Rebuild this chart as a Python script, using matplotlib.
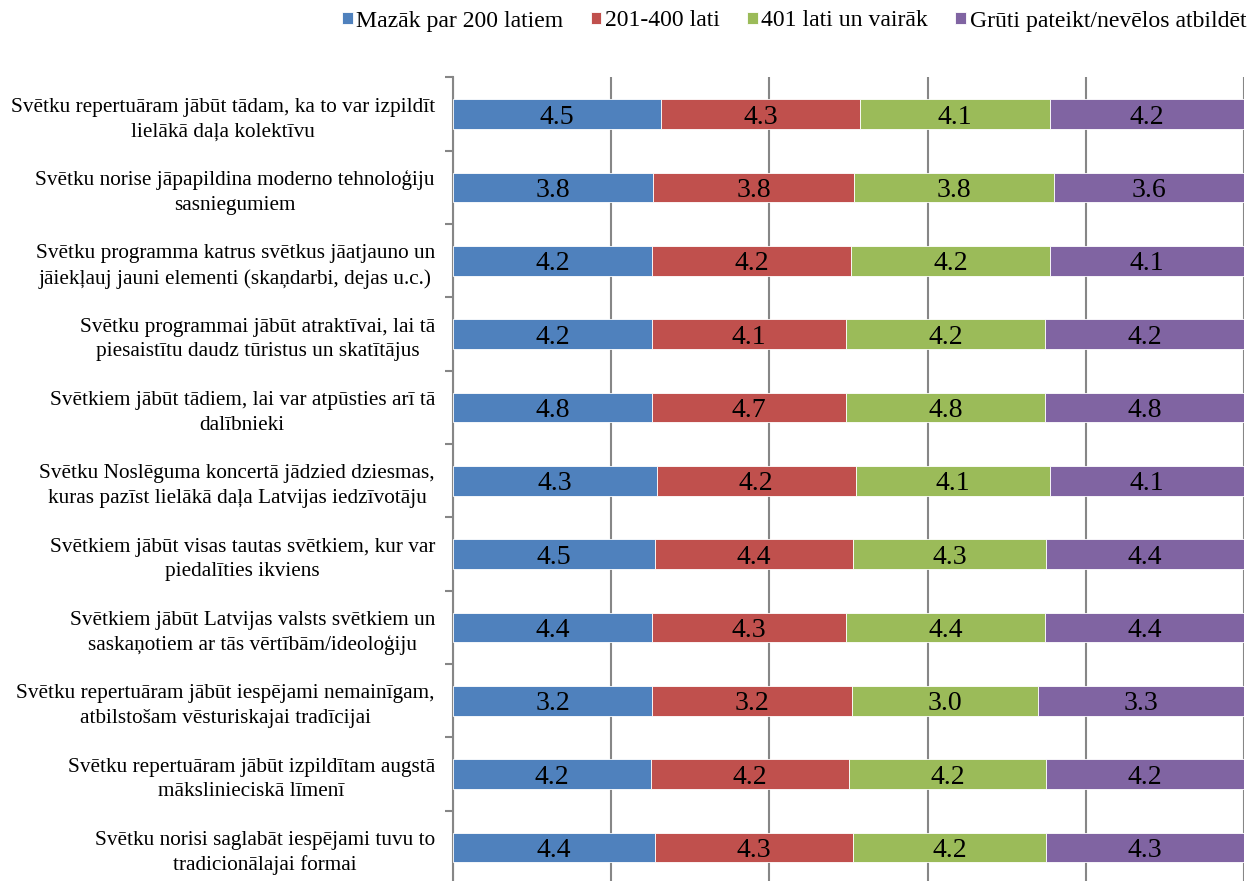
import numpy as np
import matplotlib
matplotlib.use("Agg")
import matplotlib.pyplot as plt
from matplotlib.ticker import FixedLocator

matplotlib.rcParams['font.family'] = ['Liberation Serif', 'DejaVu Serif']

# statements, top to bottom as they appear
categories = [
    "Svētku repertuāram jābūt tādam, ka to var izpildīt\nlielākā daļa kolektīvu",
    "Svētku norise jāpapildina moderno tehnoloģiju\nsasniegumiem",
    "Svētku programma katrus svētkus jāatjauno un\njāiekļauj jauni elementi (skaņdarbi, dejas u.c.)",
    "Svētku programmai jābūt atraktīvai, lai tā\npiesaistītu daudz tūristus un skatītājus",
    "Svētkiem jābūt tādiem, lai var atpūsties arī tā\ndalībnieki",
    "Svētku Noslēguma koncertā jādzied dziesmas,\nkuras pazīst lielākā daļa Latvijas iedzīvotāju",
    "Svētkiem jābūt visas tautas svētkiem, kur var\npiedalīties ikviens",
    "Svētkiem jābūt Latvijas valsts svētkiem un\nsaskaņotiem ar tās vērtībām/ideoloģiju",
    "Svētku repertuāram jābūt iespējami nemainīgam,\natbilstošam vēsturiskajai tradīcijai",
    "Svētku repertuāram jābūt izpildītam augstā\nmākslinieciskā līmenī",
    "Svētku norisi saglabāt iespējami tuvu to\ntradicionālajai formai",
]

series_names = ["Mazāk par 200 latiem", "201-400 lati", "401 lati un vairāk",
                "Grūti pateikt/nevēlos atbildēt"]

under_200 = [4.5, 3.8, 4.2, 4.2, 4.8, 4.3, 4.5, 4.4, 3.2, 4.2, 4.4]
lati_201_400 = [4.3, 3.8, 4.2, 4.1, 4.7, 4.2, 4.4, 4.3, 3.2, 4.2, 4.3]
over_401 = [4.1, 3.8, 4.2, 4.2, 4.8, 4.1, 4.3, 4.4, 3.0, 4.2, 4.2]
hard_to_say = [4.2, 3.6, 4.1, 4.2, 4.8, 4.1, 4.4, 4.4, 3.3, 4.2, 4.3]

colors = ["#4F81BD", "#C0504D", "#9BBB59", "#8064A2"]

data = np.array([under_200, lati_201_400, over_401, hard_to_say])
shares = data / data.sum(axis=0) * 100  # 100% stacked

fig = plt.figure(figsize=(12.56, 8.81), dpi=100)
ax = fig.add_axes([453 / 1256, -0.0036, 791 / 1256, 0.9157])

n = len(categories)
y = np.arange(n)
left = np.zeros(n)
for i in range(4):
    bars = ax.barh(y, shares[i], left=left, height=0.405, color=colors[i],
                   label=series_names[i], zorder=3, edgecolor="white", linewidth=0.6)
    for j, b in enumerate(bars):
        ax.text(left[j] + shares[i][j] / 2, y[j], f"{data[i][j]:.1f}",
                ha="center", va="center_baseline", fontsize=20, color="black", zorder=4)
    left += shares[i]

ax.set_xlim(0, 100)
ax.set_ylim(n - 0.5, -0.5)
ax.set_xticks([0, 20, 40, 60, 80, 100])
ax.tick_params(axis="x", length=0, labelbottom=False)
ax.xaxis.grid(True, color="#868686", linewidth=1.5, zorder=0)

ax.set_yticks(y)
ax.set_yticklabels(categories, fontsize=15.3, ha="right", multialignment="center")
for t in ax.get_yticklabels():
    t.set_linespacing(1.4)
ax.tick_params(axis="y", which="major", length=0, pad=13)
ax.yaxis.set_minor_locator(FixedLocator(np.arange(-0.5, n, 1)))
ax.tick_params(axis="y", which="minor", length=6, width=1.5, color="#868686")

for s in ["top", "right", "bottom"]:
    ax.spines[s].set_visible(False)
ax.spines["left"].set_color("#868686")
ax.spines["left"].set_linewidth(1.5)

handles, labels = ax.get_legend_handles_labels()
fig.legend(handles, labels, loc="center", bbox_to_anchor=(794 / 1256, 1 - 21 / 881),
           ncol=4, frameon=False, fontsize=17.1, handlelength=0.45, handleheight=0.45,
           handletextpad=0.15, columnspacing=1.15, borderaxespad=0)

fig.savefig("out.png", dpi=100)
